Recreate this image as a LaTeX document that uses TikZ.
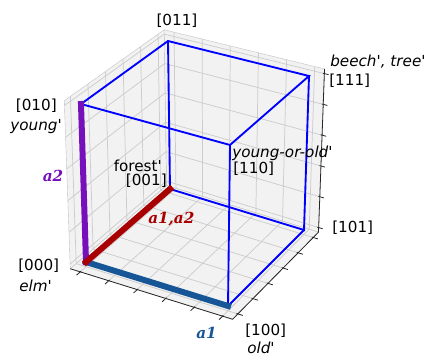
\documentclass[tikz,border=0pt]{standalone}
\usepackage{fontspec}
\setmainfont{DejaVu Sans}
\newfontfamily\vecfont{DejaVu Serif}
\usetikzlibrary{calc}

\definecolor{cubeblue}{RGB}{0,0,255}
\definecolor{aonecol}{RGB}{22,86,150}
\definecolor{atwocol}{RGB}{118,16,186}
\definecolor{abothcol}{RGB}{168,0,0}
\definecolor{panegray}{gray}{0.95}
\definecolor{gridgray}{gray}{0.80}

\newcommand{\apos}{\textquotesingle}

% box limits (unit cube plus margins)
\def\aLo{-0.07}\def\aHi{1.07}
\def\bLo{-0.03}\def\bHi{1.03}
\def\cLo{-0.07}\def\cHi{1.07}

% trilinear map of the unit cube onto the drawing (pixel units)
\newcommand{\cubept}[4]{%
  \pgfmathsetmacro{\cubeA}{#2}%
  \pgfmathsetmacro{\cubeB}{#3}%
  \pgfmathsetmacro{\cubeC}{#4}%
  \pgfmathsetmacro{\cubeX}{((1-(\cubeA))*(1-(\cubeB))*86+(\cubeA)*(1-(\cubeB))*228+(1-(\cubeA))*(\cubeB)*81+(\cubeA)*(\cubeB)*230)*(1-(\cubeC))+((1-(\cubeA))*(1-(\cubeB))*170+(\cubeA)*(1-(\cubeB))*304+(1-(\cubeA))*(\cubeB)*168+(\cubeA)*(\cubeB)*309)*(\cubeC)}%
  \pgfmathsetmacro{\cubeY}{((1-(\cubeA))*(1-(\cubeB))*262+(\cubeA)*(1-(\cubeB))*306+(1-(\cubeA))*(\cubeB)*104+(\cubeA)*(\cubeB)*145)*(1-(\cubeC))+((1-(\cubeA))*(1-(\cubeB))*189+(\cubeA)*(1-(\cubeB))*230+(1-(\cubeA))*(\cubeB)*41+(\cubeA)*(\cubeB)*76)*(\cubeC)}%
  \coordinate (#1) at (\cubeX,\cubeY);%
}

\tikzset{
  pane/.style={fill=panegray, draw=panegray!80!black, line width=0.3pt},
  gridline/.style={gridgray, line width=0.55pt},
  axisline/.style={black!85, line width=0.6pt},
  edge/.style={cubeblue, line width=1.4pt, line cap=rect},
  heavy/.style={line width=4.5pt, line cap=rect},
  lbl/.style={inner sep=0pt, font=\fontsize{11.4}{13.7}\selectfont},
  vec/.style={inner sep=0pt, font=\fontsize{11.4}{13.7}\selectfont\vecfont\bfseries\itshape},
}

\begin{document}
\begin{tikzpicture}[x=0.75pt, y=-0.75pt]
\useasboundingbox (0,0) rectangle (431,356);

% box corners
\cubept{q000}{\aLo}{\bLo}{\cLo}
\cubept{q100}{\aHi}{\bLo}{\cLo}
\cubept{q010}{\aLo}{\bHi}{\cLo}
\cubept{q001}{\aLo}{\bLo}{\cHi}
\cubept{q101}{\aHi}{\bLo}{\cHi}
\cubept{q011}{\aLo}{\bHi}{\cHi}
\cubept{q111}{\aHi}{\bHi}{\cHi}

% panes
\filldraw[pane] (q000) -- (q010) -- (q011) -- (q001) -- cycle;
\filldraw[pane] (q001) -- (q011) -- (q111) -- (q101) -- cycle;
\filldraw[pane] (q000) -- (q100) -- (q101) -- (q001) -- cycle;

% grid lines on the panes
\foreach \tk in {0,0.2,0.4,0.6,0.8,1}{
  \cubept{g1}{\tk}{\bLo}{\cLo}  \cubept{g2}{\tk}{\bLo}{\cHi}
  \draw[gridline] (g1) -- (g2);
  \cubept{g1}{\aLo}{\bLo}{\tk}  \cubept{g2}{\aHi}{\bLo}{\tk}
  \draw[gridline] (g1) -- (g2);
  \cubept{g1}{\aLo}{\tk}{\cLo}  \cubept{g2}{\aLo}{\tk}{\cHi}
  \draw[gridline] (g1) -- (g2);
  \cubept{g1}{\aLo}{\bLo}{\tk}  \cubept{g2}{\aLo}{\bHi}{\tk}
  \draw[gridline] (g1) -- (g2);
  \cubept{g1}{\tk}{\bLo}{\cHi}  \cubept{g2}{\tk}{\bHi}{\cHi}
  \draw[gridline] (g1) -- (g2);
  \cubept{g1}{\aLo}{\tk}{\cHi}  \cubept{g2}{\aHi}{\tk}{\cHi}
  \draw[gridline] (g1) -- (g2);
}

% axis lines with ticks
\cubept{q111b}{\aHi}{\bHi}{\cHi}
\draw[axisline] (q000) -- (q100) -- (q101) -- (q111);
\foreach \tk in {0,0.2,0.4,0.6,0.8,1}{
  \cubept{k1}{\tk}{\bLo}{\cLo+0.01}  \cubept{k2}{\tk}{\bLo}{\cLo-0.045}
  \draw[axisline] (k1) -- (k2);
  \cubept{k1}{\aHi-0.01}{\bLo}{\tk}  \cubept{k2}{\aHi+0.035}{\bLo}{\tk}
  \draw[axisline] (k1) -- (k2);
  \cubept{k1}{\aHi-0.01}{\tk}{\cHi}  \cubept{k2}{\aHi+0.03}{\tk}{\cHi}
  \draw[axisline] (k1) -- (k2);
}

% cube corners
\coordinate (c000) at (86,262);
\coordinate (c100) at (228,306);
\coordinate (c010) at (81,104);
\coordinate (c110) at (230,145);
\coordinate (c001) at (170,189);
\coordinate (c101) at (304,230);
\coordinate (c011) at (168,41);
\coordinate (c111) at (309,76);

% cube edges
\draw[edge] (c010) -- (c011) -- (c111) -- (c110) -- cycle;
\draw[edge] (c011) -- (c001) -- (c101) -- (c111);
\draw[edge] (c110) -- (c100) -- (c101);

% the three vectors
\draw[heavy, aonecol] (c000) -- (c100);
\draw[heavy, atwocol] (c000) -- (c010);
\draw[heavy, abothcol] (c000) -- (c001);

% corner labels
\node[lbl, anchor=base] (l011) at (177,26) {[011]};
\node[lbl, anchor=base west] (w111) at (330,67) {\itshape beech\apos, tree\apos};
\node[lbl, anchor=base west] (l111) at (329,86) {[111]};
\node[lbl, anchor=base west] (w110) at (232,157) {\itshape young-or-old\apos};
\node[lbl, anchor=base west] (l110) at (233,173) {[110]};
\node[lbl, anchor=base east] (w001) at (162,171) {forest\apos};
\node[lbl, anchor=base east] (l001) at (167,185) {[001]};
\node[lbl, anchor=base east] (l010) at (57,111) {[010]};
\node[lbl, anchor=base east] (w010) at (62,131) {\itshape young\apos};
\node[lbl, anchor=base west] (l000) at (18,270) {[000]};
\node[lbl, anchor=base west] (w000) at (19,291) {\itshape elm\apos};
\node[lbl, anchor=base west] (l100) at (245,335) {[100]};
\node[lbl, anchor=base west] (w100) at (247,353) {\itshape old\apos};
\node[lbl, anchor=base west] (l101) at (332,232) {[101]};

% vector labels
\node[vec, atwocol, anchor=base] (va2) at (53,181) {a2};
\node[vec, abothcol, anchor=base west] (va12) at (148,223) {a1,a2};
\node[vec, aonecol, anchor=base west] (va1) at (196,338) {a1};

\end{tikzpicture}
\end{document}
